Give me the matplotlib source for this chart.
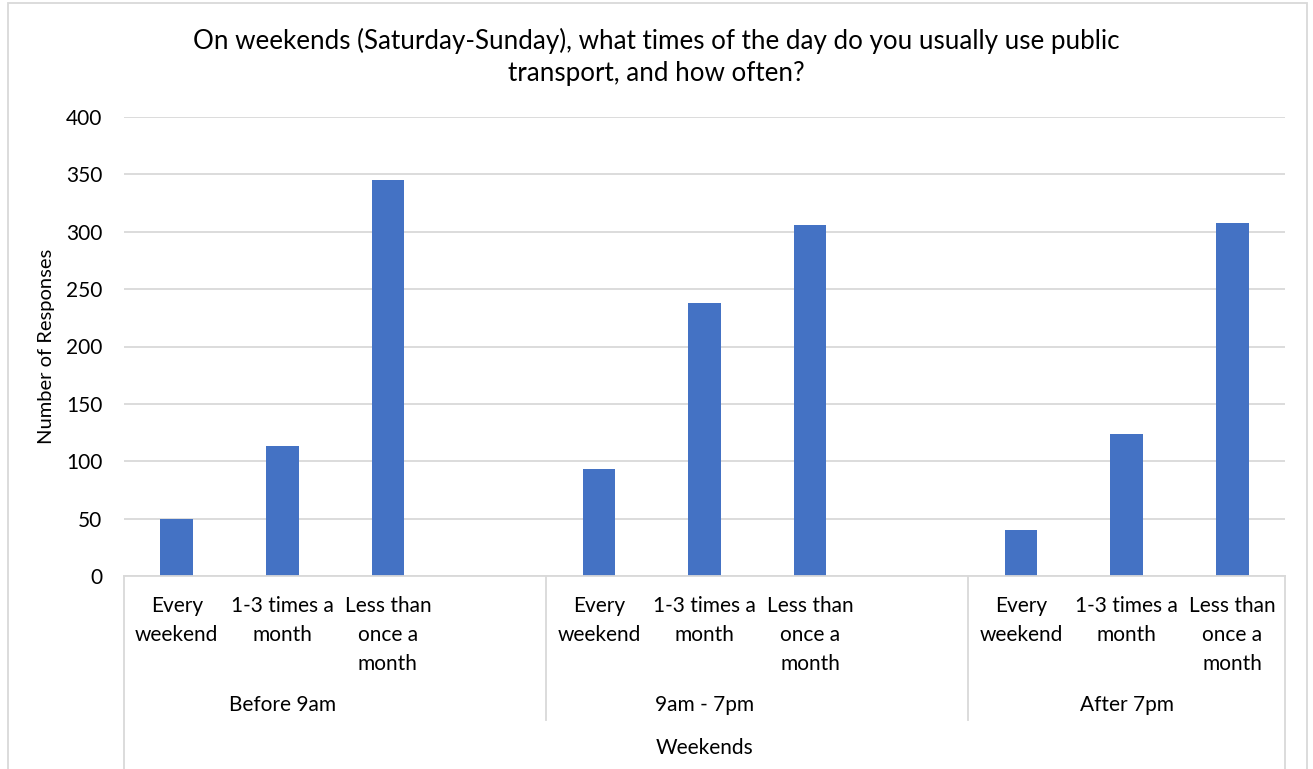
import matplotlib
matplotlib.use("Agg")
import matplotlib.pyplot as plt
from matplotlib.lines import Line2D
from matplotlib.patches import Rectangle

# categories (blank slot between the groups, as in the Excel chart)
groups = ["Before 9am", "9am - 7pm", "After 7pm"]
freq_labels = ["Every\nweekend", "1-3 times a\nmonth", "Less than\nonce a\nmonth"]
before_9am = [50, 113, 345]
day_9_7 = [93, 238, 306]
after_7pm = [40, 124, 308]
y_ticks = [0, 50, 100, 150, 200, 250, 300, 350, 400]

title = "On weekends (Saturday-Sunday), what times of the day do you usually use public\ntransport, and how often?"
BAR = "#4472C4"
GRID = "#d9d9d9"

plt.rcParams["font.family"] = ["Lato", "DejaVu Sans"]

W, H = 1313, 769
fig = plt.figure(figsize=(W / 100, H / 100), dpi=100)

# plot area in pixel terms: x 124..1285, y 117..576
ax = fig.add_axes([124 / W, (H - 576) / H, 1161 / W, 459 / H])

series = [before_9am, day_9_7, after_7pm]
positions = []
values = []
for gi, vals in enumerate(series):
    for j, v in enumerate(vals):
        positions.append(gi * 4 + j)
        values.append(v)

ax.bar(positions, values, width=0.31, color=BAR, zorder=3)

ax.set_xlim(-0.5, 10.5)
ax.set_ylim(0, 400)
ax.set_yticks(y_ticks)
ax.set_yticklabels([str(t) for t in y_ticks], fontsize=15)
ax.tick_params(axis="y", length=0, pad=15.5)
ax.set_xticks([])
ax.yaxis.grid(True, color=GRID, linewidth=1.3, zorder=0)
for s in ["top", "right", "left"]:
    ax.spines[s].set_visible(False)
ax.spines["bottom"].set_color(GRID)
ax.spines["bottom"].set_linewidth(1.3)
ax.spines["bottom"].set_zorder(4)

ax.set_ylabel("Number of Responses", fontsize=14.5, labelpad=8)

# multi-level category axis
def ay(ypix):
    return (576 - ypix) / 459

trans = ax.get_xaxis_transform()
for gi, name in enumerate(groups):
    for j, lab in enumerate(freq_labels):
        ax.text(gi * 4 + j, ay(596), lab, transform=trans, ha="center", va="top",
                fontsize=15, linespacing=1.55)
    ax.text(gi * 4 + 1, ay(705), name, transform=trans, ha="center", va="center",
            fontsize=15)

ax.text(0.5, ay(748), "Weekends", transform=ax.transAxes, ha="center", va="center",
        fontsize=15)

for xb, ybot in [(-0.5, 800), (3.5, 720), (7.5, 720), (10.5, 800)]:
    ax.add_line(Line2D([xb, xb], [0, ay(ybot)], transform=trans, color=GRID,
                       linewidth=1.3, clip_on=False))

fig.text(0.5, (H - 57) / H, title, ha="center", va="center", fontsize=18.7,
         linespacing=1.375)

# chart border
fig.patches.append(Rectangle((8 / W, -0.05), 1299 / W, 1.05 - 3 / H,
                             transform=fig.transFigure, fill=False,
                             edgecolor=GRID, linewidth=1.3))

fig.savefig("out.png", dpi=100)
